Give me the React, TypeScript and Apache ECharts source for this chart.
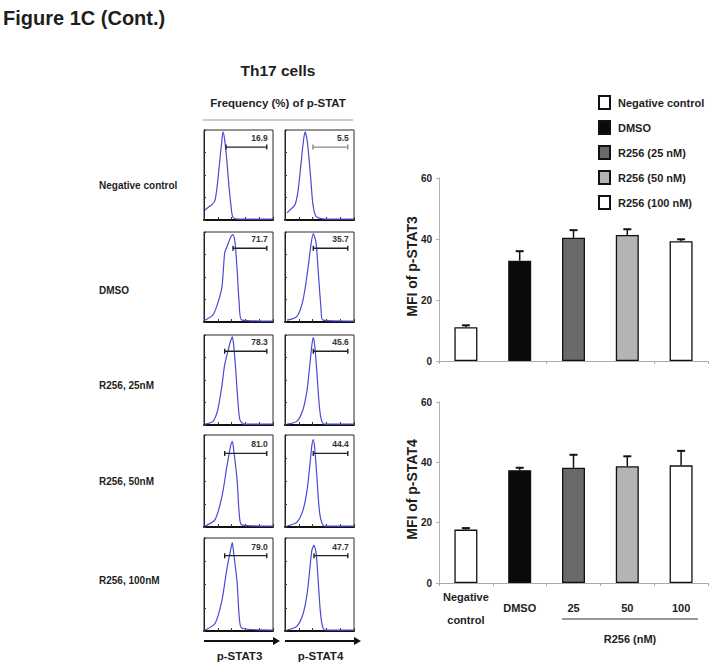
import React, { useEffect, useRef } from 'react';
import * as echarts from 'echarts';

// ---------- data ----------
const rowLabels = ['Negative control', 'DMSO', 'R256, 25nM', 'R256, 50nM', 'R256, 100nM'];
const colLabels = ['p-STAT3', 'p-STAT4'];

// flow histograms, [fluorescence %, count %] per panel
const histNegStat3 = [[1.4, 11], [5.8, 14], [11.6, 17], [16, 22], [20, 44], [23, 67], [26, 89], [27.5, 98], [30, 89], [33, 67], [36, 39], [39, 17], [42, 3], [52, 1], [100, 1]];
const histNegStat4 = [[3, 8], [7, 11], [14.5, 17], [19, 33], [23, 61], [26, 83], [29, 98], [32, 89], [35, 67], [38, 39], [40.5, 17], [45, 4], [58, 1], [100, 1]];
const histDmsoStat3 = [[1.4, 2], [13, 8], [20, 21], [26, 39], [30, 77], [33, 83], [38, 93], [42, 97], [45, 88], [48, 58], [51, 21], [55, 2], [100, 1]];
const histDmsoStat4 = [[3, 2], [17, 6], [26, 24], [33, 58], [38, 88], [41, 98], [45, 88], [48, 58], [52, 17], [55, 2], [100, 1]];
const hist25Stat3 = [[1.4, 1], [13, 4], [20, 17], [26, 44], [30, 67], [35, 83], [38, 92], [41, 98], [43, 89], [46, 61], [49, 28], [52, 6], [58, 1], [100, 1]];
const hist25Stat4 = [[3, 1], [17, 4], [26, 17], [32, 39], [36, 67], [39, 89], [41, 97], [43, 89], [46, 61], [49, 28], [52, 8], [57, 1], [100, 1]];
const hist50Stat3 = [[1.4, 1], [16, 8], [26, 33], [33, 65], [38, 86], [41, 93], [43, 84], [48, 51], [51, 15], [55, 2], [100, 1]];
const hist50Stat4 = [[3, 1], [17, 5], [26, 18], [32, 40], [36, 67], [39, 89], [41, 95], [43, 86], [46, 57], [49, 24], [52, 8], [57, 1], [100, 1]];
const hist100Stat3 = [[1.4, 1], [16, 8], [26, 33], [33, 66], [38, 85], [41, 95], [43, 84], [48, 52], [51, 16], [55, 3], [100, 1]];
const hist100Stat4 = [[3, 1], [17, 5], [26, 18], [32, 40], [36, 67], [39, 87], [42, 92], [45, 85], [48, 55], [51, 23], [54, 6], [58, 1], [100, 1]];

const histograms = [
  [histNegStat3, histNegStat4],
  [histDmsoStat3, histDmsoStat4],
  [hist25Stat3, hist25Stat4],
  [hist50Stat3, hist50Stat4],
  [hist100Stat3, hist100Stat4],
];

// gates: [start, end, level]
const gateStat3 = [[32, 91, 81], [42, 91, 82], [30, 91, 82], [30, 91, 80], [30, 91, 81]];
const gateStat4 = [[40.5, 91, 81], [41, 91, 82], [41, 91, 82], [41, 91, 80], [42, 91, 81]];
const freqStat3 = ['16.9', '71.7', '78.3', '81.0', '79.0'];
const freqStat4 = ['5.5', '35.7', '45.6', '44.4', '47.7'];

// bar charts
const barCategories = ['Negative\ncontrol', 'DMSO', '25', '50', '100'];
const legendNames = ['Negative control', 'DMSO', 'R256 (25 nM)', 'R256 (50 nM)', 'R256 (100 nM)'];
const mfiStat3 = [11.1, 32.9, 40.4, 41.3, 39.3];
const mfiStat3Err = [0.6, 3.1, 2.5, 1.9, 0.6];
const mfiStat4 = [17.7, 37.4, 38.2, 38.7, 39.0];
const mfiStat4Err = [0.5, 0.8, 4.3, 3.3, 4.8];
const yTicks = [0, 20, 40, 60];

// ---------- styles / layout ----------
const FONT = 'Liberation Sans, Arial, sans-serif';
const TXT = '#1e1e1e';
const barColors = ['#ffffff', '#0a0a0a', '#6a6a6a', '#b4b4b4', '#ffffff'];
const colLeft = [204, 285];
const panelW = 69;
const rowTop = [130, 232, 335, 435, 538];
const rowH = [90, 90, 90, 92, 93];
const rowLabelY = [185, 290, 385, 481, 580];
const histColor = '#4a4ad2';

export default function App() {
  const ref = useRef<HTMLDivElement>(null);
  useEffect(() => {
    if (!ref.current) return;
    const chart = echarts.init(ref.current, undefined, { renderer: 'svg' });

    const grid: any[] = [];
    const xAxis: any[] = [];
    const yAxis: any[] = [];
    const series: any[] = [];
    const graphic: any[] = [];

    histograms.forEach((row, r) => {
      row.forEach((pts, c) => {
        const gi = grid.length;
        grid.push({
          left: colLeft[c], top: rowTop[r], width: panelW, height: rowH[r],
          show: true, borderColor: '#2a2a2a', borderWidth: 1,
        });
        xAxis.push({
          gridIndex: gi, type: 'value', min: 0, max: 100, interval: 20,
          axisLine: { show: true, lineStyle: { color: '#111', width: 2 } },
          axisTick: { show: true, inside: true, length: 3, lineStyle: { color: '#333' } },
          axisLabel: { show: false }, splitLine: { show: false },
        });
        yAxis.push({
          gridIndex: gi, type: 'value', min: 0, max: 100, interval: 25,
          axisLine: { show: true, lineStyle: { color: '#222', width: 1 } },
          axisTick: { show: true, inside: true, length: 2, lineStyle: { color: '#333' } },
          axisLabel: { show: false }, splitLine: { show: false },
        });
        series.push({
          type: 'line', xAxisIndex: gi, yAxisIndex: gi, data: pts,
          showSymbol: false, smooth: 0.25, silent: true,
          lineStyle: { color: histColor, width: 1.2 },
        });
        const gate = c === 0 ? gateStat3[r] : gateStat4[r];
        const label = c === 0 ? freqStat3[r] : freqStat4[r];
        const gateColor = r === 0 && c === 1 ? '#8a8a8a' : '#222';
        series.push({
          type: 'custom', xAxisIndex: gi, yAxisIndex: gi, data: [gate], z: 5, silent: true,
          renderItem: (_p: any, api: any) => {
            const a = api.coord([api.value(0), api.value(2)]);
            const b = api.coord([api.value(1), api.value(2)]);
            const st = { stroke: gateColor, lineWidth: 1.4 };
            return {
              type: 'group',
              children: [
                { type: 'line', shape: { x1: a[0], y1: a[1], x2: b[0], y2: b[1] }, style: st },
                { type: 'line', shape: { x1: a[0], y1: a[1] - 2.5, x2: a[0], y2: a[1] + 2.5 }, style: st },
                { type: 'line', shape: { x1: b[0], y1: b[1] - 2.5, x2: b[0], y2: b[1] + 2.5 }, style: st },
                {
                  type: 'text', x: b[0] + 1, y: a[1] - 9,
                  style: { text: label, align: 'right', verticalAlign: 'middle', fontSize: 8.5, fontWeight: 'bold', fontFamily: FONT, fill: '#333' },
                },
              ],
            };
          },
        });
      });
    });

    // bar charts
    const barSets = [
      { vals: mfiStat3, errs: mfiStat3Err, top: 178, height: 183, title: 'MFI of p-STAT3', labels: false },
      { vals: mfiStat4, errs: mfiStat4Err, top: 402, height: 181, title: 'MFI of p-STAT4', labels: true },
    ];
    barSets.forEach((set) => {
      const gi = grid.length;
      grid.push({ left: 439, top: set.top, width: 269, height: set.height });
      xAxis.push({
        gridIndex: gi, type: 'category', data: barCategories, boundaryGap: true,
        axisLine: { show: true, lineStyle: { color: '#aaa', width: 1 } },
        axisTick: { show: true, length: 3, lineStyle: { color: '#aaa' } },
        axisLabel: set.labels
          ? { show: true, fontSize: 11, fontWeight: 'bold', fontFamily: FONT, color: TXT, verticalAlign: 'middle', margin: 25, lineHeight: 23, interval: 0 }
          : { show: false },
      });
      yAxis.push({
        gridIndex: gi, type: 'value', min: yTicks[0], max: yTicks[yTicks.length - 1], interval: yTicks[1] - yTicks[0],
        axisLine: { show: true, lineStyle: { color: '#b0b0b0', width: 1 } },
        axisTick: { show: true, length: 3, lineStyle: { color: '#b0b0b0' } },
        axisLabel: { fontSize: 10, fontWeight: 'bold', fontFamily: FONT, color: TXT, margin: 7 },
        splitLine: { show: false },
      });
      legendNames.forEach((name, i) => {
        series.push({
          type: 'bar', name, xAxisIndex: gi, yAxisIndex: gi,
          data: set.vals.map((v, j) => (j === i ? v : '-')),
          barWidth: 23, barGap: '-100%',
          itemStyle: { color: barColors[i], borderColor: '#111', borderWidth: 1.3 },
        });
      });
      series.push({
        type: 'custom', xAxisIndex: gi, yAxisIndex: gi, z: 4, silent: true,
        data: set.vals.map((v, j) => [j, v, set.errs[j]]),
        encode: { x: 0, y: 1 },
        renderItem: (_p: any, api: any) => {
          const base = api.coord([api.value(0), api.value(1)]);
          const tip = api.coord([api.value(0), api.value(1) + api.value(2)]);
          const st = { stroke: '#111', lineWidth: 1.5 };
          return {
            type: 'group',
            children: [
              { type: 'line', shape: { x1: base[0], y1: base[1], x2: tip[0], y2: tip[1] }, style: st },
              { type: 'line', shape: { x1: tip[0] - 4, y1: tip[1], x2: tip[0] + 4, y2: tip[1] }, style: { stroke: '#111', lineWidth: 2 } },
            ],
          };
        },
      });
      graphic.push({
        type: 'text', x: 412, y: set.top + set.height / 2 - 3, rotation: Math.PI / 2,
        style: { text: set.title, align: 'center', verticalAlign: 'middle', fontSize: 14, fontWeight: 'bold', fontFamily: FONT, fill: TXT },
      });
    });

    // texts and decorations
    graphic.push(
      { type: 'text', x: 3, y: 18, style: { text: 'Figure 1C (Cont.)', align: 'left', verticalAlign: 'middle', fontSize: 20, fontWeight: 'bold', fontFamily: FONT, fill: TXT } },
      { type: 'text', x: 278, y: 70, style: { text: 'Th17 cells', align: 'center', verticalAlign: 'middle', fontSize: 15.5, fontWeight: 'bold', fontFamily: FONT, fill: TXT } },
      { type: 'text', x: 278, y: 103, style: { text: 'Frequency (%) of p-STAT', align: 'center', verticalAlign: 'middle', fontSize: 11.5, fontWeight: 'bold', fontFamily: FONT, fill: TXT } },
      { type: 'line', shape: { x1: 203, y1: 120, x2: 353, y2: 120 }, style: { stroke: '#9a9a9a', lineWidth: 1 } },
      { type: 'line', shape: { x1: 562, y1: 619, x2: 698, y2: 619 }, style: { stroke: '#333', lineWidth: 1 } },
      { type: 'text', x: 630, y: 639, style: { text: 'R256 (nM)', align: 'center', verticalAlign: 'middle', fontSize: 11, fontWeight: 'bold', fontFamily: FONT, fill: TXT } },
    );
    rowLabels.forEach((t, r) => {
      graphic.push({ type: 'text', x: 99, y: rowLabelY[r], style: { text: t, align: 'left', verticalAlign: 'middle', fontSize: 10, fontWeight: 'bold', fontFamily: FONT, fill: TXT } });
    });
    colLabels.forEach((t, c) => {
      const x0 = colLeft[c];
      graphic.push(
        { type: 'line', shape: { x1: x0, y1: 641, x2: x0 + panelW + 1, y2: 641 }, style: { stroke: '#111', lineWidth: 2 } },
        { type: 'polygon', shape: { points: [[x0 + panelW, 637], [x0 + panelW + 7, 641], [x0 + panelW, 645]] }, style: { fill: '#111' } },
        { type: 'text', x: x0 + panelW / 2 + 1, y: 656, style: { text: t, align: 'center', verticalAlign: 'middle', fontSize: 11.5, fontWeight: 'bold', fontFamily: FONT, fill: TXT } },
      );
    });

    chart.setOption({
      animation: false,
      backgroundColor: '#ffffff',
      grid, xAxis, yAxis, series, graphic,
      legend: {
        data: legendNames, orient: 'vertical', left: 593, top: 90,
        icon: 'rect', itemWidth: 11, itemHeight: 13, itemGap: 10, selectedMode: false,
        textStyle: { fontSize: 11, fontWeight: 'bold', fontFamily: FONT, color: TXT, padding: [0, 0, 0, 3] },
      },
    });
    return () => chart.dispose();
  }, []);
  return <div ref={ref} style={{ position: 'fixed', left: 0, top: 0, width: 717, height: 672 }} />;
}
